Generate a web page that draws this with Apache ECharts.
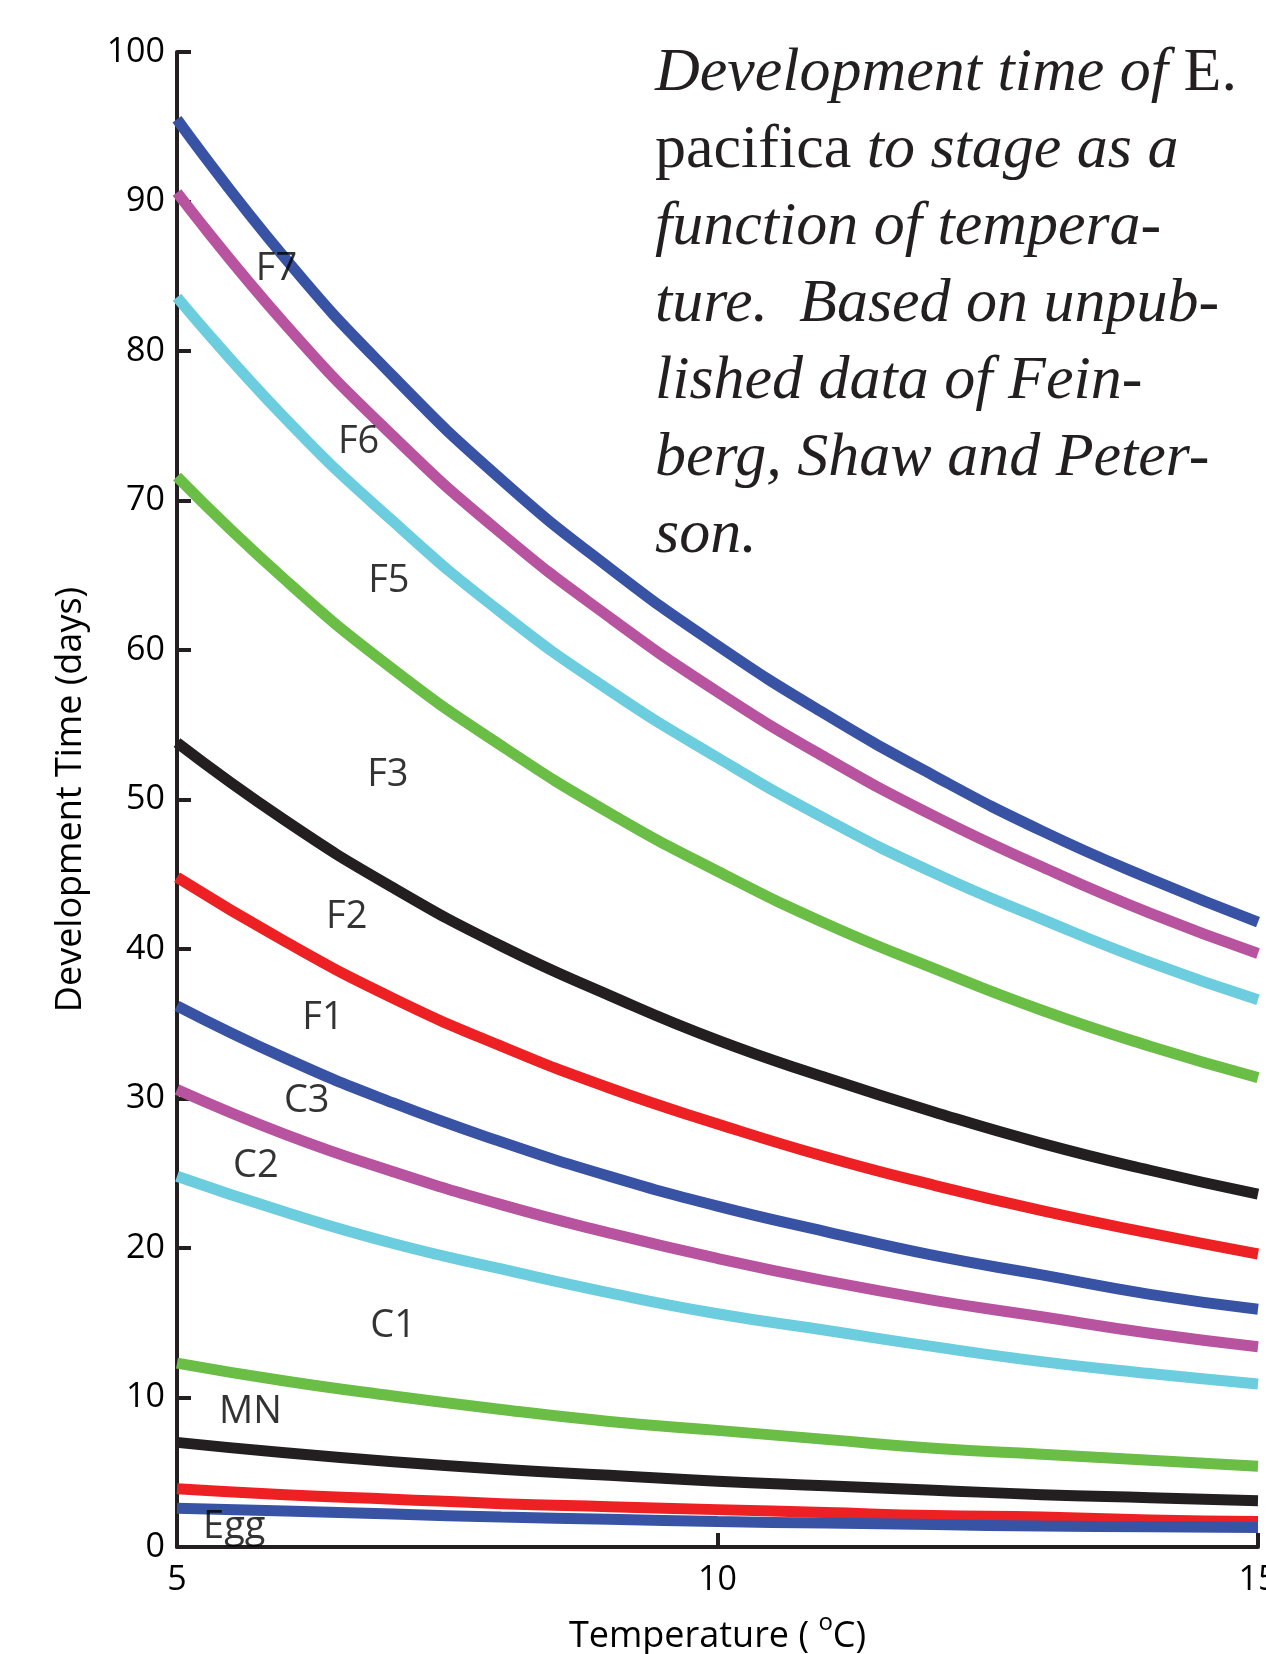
<!DOCTYPE html>
<html>
<head>
<meta charset="utf-8">
<script src="https://cdn.jsdelivr.net/npm/echarts@6/dist/echarts.min.js"></script>
<style>
  html, body { margin: 0; padding: 0; background: #fff; }
  #main { width: 1266px; height: 1654px; }
</style>
</head>
<body>
<div id="main"></div>
<script>
// temperature (deg C) at which each curve was read
var temps = [5, 6, 7, 8, 9, 10, 11, 12, 13, 14, 15];

// development time (days) to each stage
var stF7  = [95.5, 86.2, 78.3, 71.4, 65.5, 60.3, 55.7, 51.6, 47.9, 44.7, 41.8];
var stF6  = [90.6, 81.8, 74.3, 67.8, 62.2, 57.2, 52.8, 48.9, 45.5, 42.4, 39.7];
var stF5  = [83.6, 75.5, 68.6, 62.5, 57.3, 52.8, 48.7, 45.1, 42.0, 39.1, 36.6];
var stF3  = [71.6, 64.7, 58.7, 53.6, 49.1, 45.2, 41.7, 38.7, 35.9, 33.5, 31.4];
var stF2  = [53.8, 48.6, 44.1, 40.2, 36.9, 33.9, 31.4, 29.1, 27.0, 25.2, 23.6];
var stF1  = [44.8, 40.5, 36.7, 33.5, 30.7, 28.3, 26.1, 24.2, 22.5, 21.0, 19.6];
var stC3  = [36.2, 32.7, 29.7, 27.1, 24.8, 22.8, 21.1, 19.5, 18.2, 16.9, 15.9];
var stC2  = [30.6, 27.6, 25.1, 22.9, 21.0, 19.3, 17.8, 16.5, 15.4, 14.3, 13.4];
var stC1  = [24.8, 22.4, 20.3, 18.6, 17.0, 15.6, 14.5, 13.4, 12.4, 11.6, 10.9];
var stMN  = [12.3, 11.1, 10.1, 9.2, 8.4, 7.8, 7.2, 6.6, 6.2, 5.8, 5.4];
var stN2  = [7.0, 6.3, 5.7, 5.2, 4.8, 4.4, 4.1, 3.8, 3.5, 3.3, 3.1];
var stN1  = [3.9, 3.5, 3.2, 2.9, 2.7, 2.5, 2.3, 2.1, 2.0, 1.8, 1.7];
var stEgg = [2.6, 2.4, 2.2, 2.0, 1.85, 1.7, 1.6, 1.5, 1.4, 1.35, 1.3];

var curves = [stF7, stF6, stF5, stF3, stF2, stF1, stC3, stC2, stC1, stMN, stN2, stN1, stEgg];
var curveColors = ['#3953a4', '#b853a0', '#6ccdde', '#6abd45', '#231f20', '#ed2024',
                   '#3953a4', '#b853a0', '#6ccdde', '#6abd45', '#231f20', '#ed2024', '#3953a4'];

// stage labels written inside the plot
var labelNames = ['F7', 'F6', 'F5', 'F3', 'F2', 'F1', 'C3', 'C2', 'C1', 'MN', 'Egg'];
var labelX = [5.92, 6.68, 6.96, 6.95, 6.57, 6.35, 6.20, 5.73, 7.00, 5.68, 5.53];
var labelY = [85.5, 73.9, 64.6, 51.6, 42.1, 35.4, 29.8, 25.5, 14.8, 9.0, 1.3];

var sans = 'Open Sans';
var serif = 'Liberation Serif';

var chart = echarts.init(document.getElementById('main'));

var series = curves.map(function (vals, i) {
  return {
    type: 'line',
    smooth: true,
    showSymbol: false,
    animation: false,
    lineStyle: { color: curveColors[i], width: 11 },
    data: temps.map(function (t, k) { return [t, vals[k]]; })
  };
});

series.push({
  type: 'scatter',
  animation: false,
  symbolSize: 0.1,
  itemStyle: { color: 'rgba(0,0,0,0)' },
  z: 5,
  label: {
    show: true,
    position: 'inside',
    formatter: function (p) { return p.name; },
    color: '#000',
    textBorderWidth: 0,
    fontFamily: sans,
    fontSize: 38
  },
  data: labelNames.map(function (n, i) {
    return { name: n, value: [labelX[i], labelY[i]] };
  })
});

var titleText =
  '{i|Development time of }{r|E.}\n' +
  '{r|pacifica }{i|to stage as a}\n' +
  '{i|function of tempera-}\n' +
  '{i|ture.  Based on unpub-}\n' +
  '{i|lished data of Fein-}\n' +
  '{i|berg, Shaw and Peter-}\n' +
  '{i|son.}';

var option = {
  backgroundColor: '#fff',
  animation: false,
  title: {
    text: titleText,
    left: 650,
    top: 30,
    textStyle: {
      fontWeight: 'normal',
      lineHeight: 77,
      rich: {
        i: { fontFamily: serif, fontStyle: 'italic', fontWeight: 'normal', fontSize: 62, color: '#231f20', lineHeight: 77 },
        r: { fontFamily: serif, fontStyle: 'normal', fontWeight: 'normal', fontSize: 62, color: '#231f20', lineHeight: 77 }
      }
    }
  },
  grid: { left: 177, right: 8, top: 52, bottom: 107, containLabel: false, outerBoundsMode: 'none' },
  xAxis: {
    type: 'value',
    min: 5,
    max: 15,
    interval: 5,
    name: '{t|Temperature ( }{s|o}{t|C)}',
    nameLocation: 'middle',
    nameGap: 64,
    nameTextStyle: {
      rich: {
        t: { fontFamily: sans, fontSize: 36, color: '#000', lineHeight: 44, verticalAlign: 'bottom' },
        s: { fontFamily: sans, fontSize: 24, color: '#000', lineHeight: 44, verticalAlign: 'top' }
      }
    },
    axisLine: { show: true, onZero: false, lineStyle: { color: '#231f20', width: 4 } },
    axisTick: { show: true, inside: true, length: 14, lineStyle: { color: '#231f20', width: 4 } },
    axisLabel: { color: '#000', fontFamily: sans, fontSize: 34, margin: 16 },
    splitLine: { show: false }
  },
  yAxis: {
    type: 'value',
    min: 0,
    max: 100,
    interval: 10,
    name: 'Development Time (days)',
    nameLocation: 'middle',
    nameGap: 88,
    nameTextStyle: { fontFamily: sans, fontSize: 36, color: '#000' },
    axisLine: { show: true, onZero: false, lineStyle: { color: '#231f20', width: 4 } },
    axisTick: { show: true, inside: true, length: 14, lineStyle: { color: '#231f20', width: 4 } },
    axisLabel: { color: '#000', fontFamily: sans, fontSize: 34, margin: 12 },
    splitLine: { show: false }
  },
  series: series
};

chart.setOption(option);
</script>
</body>
</html>
